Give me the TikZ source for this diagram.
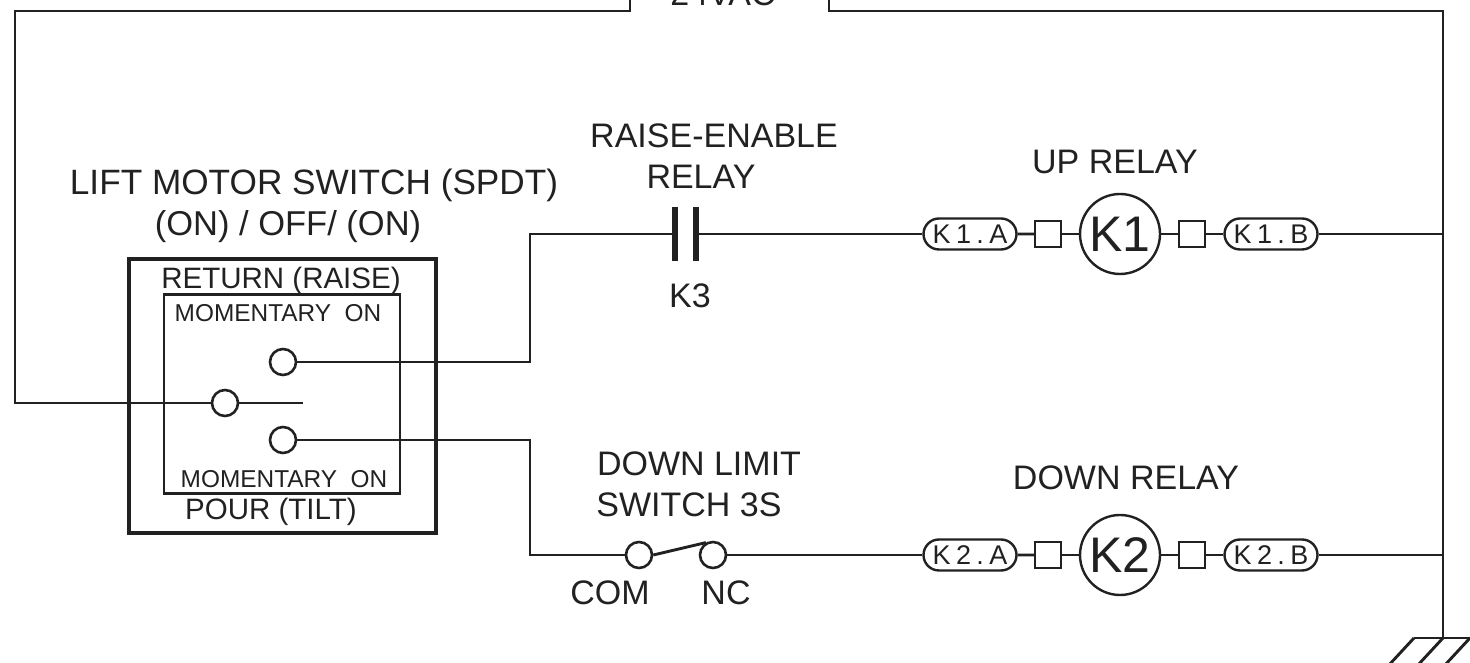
\documentclass[tikz,border=0pt]{standalone}
\usepackage{fontspec}
\setmainfont{Liberation Sans}
\usetikzlibrary{shapes.misc}
\definecolor{ink}{gray}{0.13}
\tikzstyle{wire}=[draw=ink, line width=2.9pt]
\tikzstyle{lbl}=[text=ink, anchor=base, inner sep=0pt, font=\fontsize{34}{38}\selectfont]
\tikzstyle{small}=[text=ink, anchor=base, inner sep=0pt, font=\fontsize{24.4}{28}\selectfont]
\tikzstyle{contact}=[draw=ink, line width=2.6pt, circle, fill=white, minimum size=26pt, inner sep=0pt]
\tikzstyle{coil}=[draw=ink, line width=2.4pt, circle, fill=white, text=ink, minimum size=80pt, inner sep=0pt, font=\fontsize{50}{54}\selectfont]
\tikzstyle{sq}=[draw=ink, line width=2.4pt, fill=white, minimum size=26pt, inner sep=0pt]
\tikzstyle{pill}=[draw=ink, line width=2.4pt, rounded rectangle, fill=white, text=ink, minimum width=93pt, minimum height=31pt, inner sep=0pt, font=\fontsize{27}{30}\selectfont\addfontfeatures{LetterSpace=20}]
\tikzstyle{plate}=[fill=ink, minimum width=6pt, minimum height=54pt, inner sep=0pt]
\begin{document}
\begin{tikzpicture}[x=1pt,y=1pt,node distance=72pt]
      \useasboundingbox (0,0) rectangle (1470,663);
      % switch boxes
      \node [draw=ink, line width=4pt, minimum width=307pt, minimum height=274pt, inner sep=0pt] (outer) at (282.5,267) {};
      \node [draw=ink, line width=2.4pt, minimum width=236pt, minimum height=199pt, inner sep=0pt] (inner) at (282,269) {};
      \node [contact] (lc) at (225,260) {};
      \node [contact] (upc) at (283,301) {};
      \node [contact] (dnc) at (283,223) {};
      \node [coordinate] (lcend) [right of=lc, node distance=78pt] {};
      % top row
      \node [coil] (k1) at (1120,429) {K1};
      \node [sq] (s1a) [left of=k1] {};
      \node [pill] (k1a) [left of=k1, node distance=150pt] {K1.A};
      \node [sq] (s1b) [right of=k1] {};
      \node [pill] (k1b) [right of=k1, node distance=151pt] {K1.B};
      \node [plate] (k3a) at (675,429) {};
      \node [plate] (k3b) [right of=k3a, node distance=21pt] {};
      % bottom row
      \node [coil] (k2) at (1120,108) {K2};
      \node [sq] (s2a) [left of=k2] {};
      \node [pill] (k2a) [left of=k2, node distance=150pt] {K2.A};
      \node [sq] (s2b) [right of=k2] {};
      \node [pill] (k2b) [right of=k2, node distance=151pt] {K2.B};
      \node [contact] (com) at (639,108) {};
      \node [contact] (nc) [right of=com, node distance=74pt] {};
      % wire corners
      \node [coordinate] (vacl) at (630,670) {};
      \node [coordinate] (vacr) at (829,670) {};
      \node [coordinate] (tl) at (15,652) {};
      \node [coordinate] (tr) at (1443,652) {};
      \node [coordinate] (gnd) at (1443,25) {};
      \node [coordinate] (w1) at (530,429) {};
      \node [coordinate] (w2) at (530,108) {};
      \draw [wire] (vacl) |- (tl) |- (lc.west);
      \draw [wire] (vacr) |- (tr) -- (gnd);
      \draw [wire] (lc.east) -- (lcend);
      \draw [wire] (upc.east) -| (w1) -- (k3a);
      \draw [wire] (dnc.east) -| (w2) -- (com.west);
      \draw [wire] (com.east) -- (nc.120);
      \draw [wire] (k3b) -- (k1a.west);
      \draw [wire] (nc.east) -- (k2a.west);
      \draw [wire] (k1a) -- (s1a);
      \draw [wire] (s1a) -- (k1);
      \draw [wire] (k1) -- (s1b);
      \draw [wire] (s1b) -- (k1b);
      \draw [wire] (k2a) -- (s2a);
      \draw [wire] (s2a) -- (k2);
      \draw [wire] (k2) -- (s2b);
      \draw [wire] (s2b) -- (k2b);
      \draw [wire] (k1b.east) -- (k1b.east -| gnd);
      \draw [wire] (k2b.east) -- (k2b.east -| gnd);
      % ground hatching
      \node [coordinate] (g1) at (1414,25) {};
      \node [coordinate] (g2) at (1470,25) {};
      \draw [wire] (g1) -- (g2);
      \draw [wire] (g1) -- (1389,-2);
      \draw [wire] (gnd) -- (1418,-2);
      \draw [wire] (g2) -- (1445,-2);
      % labels
      \node [lbl] (vac) at (723,657) {24VAC};
      \node [lbl, font=\fontsize{35.2}{38}\selectfont] (lift) at (314,468) {LIFT MOTOR SWITCH (SPDT)};
      \node [lbl, font=\fontsize{34.5}{38}\selectfont] (onoff) at (288,427) {(ON) / OFF/ (ON)};
      \node [lbl] (raise) at (714,515) {RAISE-ENABLE};
      \node [lbl] (rel) at (701,474) {RELAY};
      \node [lbl] (k3) at (690,355) {K3};
      \node [lbl] (up) at (1115,489) {UP RELAY};
      \node [lbl] (down) at (1126,173) {DOWN RELAY};
      \node [lbl] (limit) at (699,187) {DOWN LIMIT};
      \node [lbl] (sw3s) at (689,146) {SWITCH 3S};
      \node [lbl] (comt) at (610,58) {COM};
      \node [lbl] (nct) at (726,58) {NC};
      \node [lbl, font=\fontsize{29.5}{33}\selectfont] (ret) at (281,374) {RETURN (RAISE)};
      \node [small] (m1) at (278,341) {MOMENTARY\ \ ON};
      \node [small] (m2) at (284,175) {MOMENTARY\ \ ON};
      \node [lbl, font=\fontsize{29.5}{33}\selectfont] (pour) at (271,143) {POUR (TILT)};
\end{tikzpicture}
\end{document}
